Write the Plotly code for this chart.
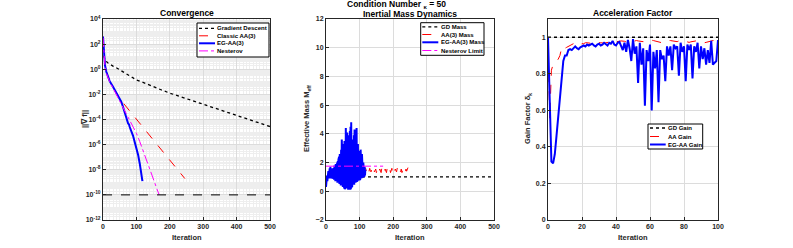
import plotly.graph_objects as go

# ---- Convergence (log10 of ||grad f||) ----
gd_iter = [0, 1, 2, 3, 5, 8, 10, 15, 20, 30, 40, 50, 60, 75, 100, 125, 150, 175, 200, 250, 300, 350, 400, 450, 500]
gd_log = [2.5, 1.6, 1.25, 1.05, 0.85, 0.7, 0.62, 0.5, 0.4, 0.25, 0.12, -0.04, -0.2, -0.45, -0.85, -1.1, -1.4, -1.65, -1.9, -2.35, -2.8, -3.25, -3.7, -4.13, -4.56]

aa_iter = [0, 2, 4, 6, 10, 15, 20, 30, 40, 50, 60, 80, 100, 125, 150, 175, 200, 225, 245]
aa_log = [2.6, 1.5, 0.8, 0.3, -0.2, -0.6, -0.95, -1.4, -1.85, -2.35, -2.67, -3.32, -3.97, -4.8, -5.6, -6.42, -7.25, -8.05, -8.7]

eg_iter = [0, 2, 4, 6, 10, 15, 20, 30, 40, 50, 55, 60, 65, 70, 75, 78, 80, 90, 100, 105, 110, 115, 118]
eg_log = [2.6, 1.5, 0.8, 0.3, -0.2, -0.6, -0.95, -1.4, -1.85, -2.3, -2.6, -3.0, -3.5, -4.0, -4.3, -4.4, -4.6, -5.3, -6.2, -6.8, -7.5, -8.3, -8.9]

nes_iter = [0, 2, 4, 6, 10, 20, 30, 40, 50, 60, 70, 80, 90, 100, 110, 120, 130, 140, 150, 160, 168]
nes_log = [2.5, 1.3, 0.6, 0.2, -0.3, -1.0, -1.5, -2.0, -2.5, -3.0, -3.5, -4.0, -4.55, -5.1, -5.75, -6.5, -7.2, -7.95, -8.7, -9.4, -10.0]

tol_iter = [0, 500]
tol_val = [1e-10, 1e-10]

y1_tick_exps = [4, 2, 0, -2, -4, -6, -8, -10, -12]

# ---- Inertial mass ----
gdm_iter = [0, 500]
gdm_val = [1.0, 1.0]

aam_iter = [0, 3, 6, 10, 15, 20, 30, 40, 50, 60, 70, 80, 90, 100, 110,
            118, 120, 122, 124, 126, 128, 130, 132, 134, 136, 138, 140, 142, 144, 146, 148, 150, 152, 154,
            156, 158, 160, 162, 164, 166, 168, 170, 172, 174, 176, 178, 180, 182, 184, 186, 188, 190, 192,
            194, 196, 198, 200, 202, 204, 206, 208, 210, 212, 214, 216, 218, 220, 222, 224, 226, 228, 230,
            232, 234, 236, 238, 240, 242, 244]
aam_val = [0.9, 0.95, 1.0, 1.05, 1.1, 1.1, 1.2, 1.3, 1.35, 1.4, 1.45, 1.4, 1.45, 1.5, 1.45,
           1.6, 1.4, 1.55, 1.35, 1.5, 1.4, 1.6, 1.45, 1.35, 1.55, 1.4, 1.5, 1.6, 1.35, 1.45, 1.55, 1.3, 1.5, 1.6,
           1.4, 1.35, 1.55, 1.45, 1.3, 1.6, 1.45, 1.4, 1.5, 1.35, 1.55, 1.45, 1.3, 1.6, 1.4, 1.35, 1.5, 1.55, 1.3,
           1.45, 1.6, 1.35, 1.4, 1.5, 1.3, 1.55, 1.45, 1.35, 1.6, 1.4, 1.3, 1.5, 1.45, 1.35, 1.55, 1.3, 1.45, 1.5,
           1.35, 1.45, 1.3, 1.55, 1.4, 1.5, 1.65]

egm_val = [0.3, 0.9, 0.5, 1.1, 0.7, 1.2, 0.8, 1.4, 0.9, 1.5, 0.9, 1.6, 0.9, 1.7, 1.0, 1.5, 1.1, 1.6, 0.9, 1.4,
           0.95, 1.5, 0.9, 1.6, 0.8, 1.8, 0.85, 1.7, 0.7, 1.9, 0.8, 1.8, 0.7, 2.0, 0.6, 2.1, 0.7, 2.2, 0.6, 2.4,
           0.5, 2.6, 0.55, 2.5, 0.4, 2.9, 0.45, 3.6, 0.4, 3.0, 0.3, 3.3, 0.35, 2.9, 0.2, 3.5, 0.15, 3.4, 0.3, 4.4,
           0.25, 3.8, 0.3, 4.1, 0.2, 3.6, 0.1, 3.9, 0.15, 3.3, 0.2, 4.2, 0.1, 4.5, 0.15, 4.8, 0.3, 4.1, 0.35, 3.6,
           0.5, 3.4, 0.5, 3.9, 0.45, 4.3, 0.6, 3.7, 0.65, 3.5, 0.7, 4.4, 0.7, 3.9, 0.75, 3.3, 0.8, 3.0, 0.85, 2.8,
           0.8, 2.6, 0.85, 2.9, 0.9, 2.4, 0.9, 2.6, 0.95, 2.2, 0.95, 2.0, 1.0, 1.8, 1.0, 1.7, 1.1, 1.5]
egm_iter = list(range(len(egm_val)))

nesm_iter = [0, 170]
nesm_val = [1.75, 1.75]

# ---- Acceleration factor ----
gain_iter = list(range(101))
gd_gain = [1.0] * 101
aa_gain = [1.0, 0.55, 0.82, 0.85, 0.86, 0.87, 0.88, 0.9, 0.94, 0.95, 0.94, 0.945, 0.95, 0.955, 0.96, 0.965, 0.96, 0.955, 0.955, 0.96,
           0.965, 0.965, 0.97, 0.97, 0.968, 0.966, 0.966, 0.968, 0.97, 0.972, 0.972, 0.97, 0.968, 0.968, 0.97, 0.972, 0.975, 0.976, 0.976, 0.975,
           0.975, 0.976, 0.978, 0.98, 0.98, 0.978, 0.975, 0.972, 0.972, 0.975, 0.978, 0.98, 0.982, 0.98, 0.978, 0.976, 0.976, 0.978, 0.98, 0.982,
           0.984, 0.984, 0.982, 0.98, 0.976, 0.972, 0.97, 0.97, 0.972, 0.976, 0.98, 0.982, 0.982, 0.98, 0.976, 0.974, 0.976, 0.98, 0.982, 0.982,
           0.98, 0.976, 0.972, 0.972, 0.975, 0.978, 0.98, 0.98, 0.978, 0.975, 0.972, 0.97, 0.97, 0.972, 0.975, 0.978, 0.98, 0.982, 0.982, 0.982,
           0.982]
eg_gain = [1.0, 0.62, 0.32, 0.31, 0.36, 0.46, 0.57, 0.68, 0.8, 0.87, 0.9, 0.9, 0.93, 0.935, 0.93, 0.94, 0.95, 0.94, 0.935, 0.945,
           0.95, 0.955, 0.95, 0.96, 0.955, 0.96, 0.965, 0.955, 0.95, 0.96, 0.965, 0.955, 0.96, 0.97, 0.96, 0.955, 0.97, 0.965, 0.98, 0.96,
           0.955, 0.97, 0.975, 0.95, 0.93, 0.97, 0.92, 0.985, 0.94, 0.87, 0.99, 0.91, 0.95, 0.75, 0.97, 0.85, 0.94, 0.625, 0.93, 0.87,
           0.96, 0.6, 0.92, 0.83, 0.93, 0.645, 0.93, 0.88, 0.9, 0.76, 0.95, 0.9, 0.95, 0.82, 0.96, 0.94, 0.95, 0.79, 0.97, 0.92,
           0.95, 0.76, 0.96, 0.93, 0.96, 0.775, 0.95, 0.92, 0.97, 0.83, 0.95, 0.88, 0.94, 0.85, 0.93, 0.86, 0.98, 0.85, 0.86, 0.87,
           0.985]

# log-axis minor grid positions (2..9 x 10^k)
minor_log_vals = [m * 10.0 ** k for k in range(-12, 4) for m in range(2, 10)]
minor_log_vals += [10.0 ** k for k in range(-11, 4, 2)]

BLACK = "#000000"
RED = "#ff0000"
BLUE = "#0000ff"
MAG = "#ff00ff"
FONT = "Liberation Sans"

STY_GD = dict(color=BLACK, width=1.3, dash="dot")
STY_AA = dict(color=RED, width=1, dash="dash")
STY_EG = dict(color=BLUE, width=2)
STY_NES = dict(color=MAG, width=1, dash="dashdot")

fig = go.Figure()

# panel 1
fig.add_trace(go.Scatter(x=gd_iter, y=[10 ** v for v in gd_log], mode="lines", line=STY_GD, xaxis="x", yaxis="y"))
fig.add_trace(go.Scatter(x=aa_iter, y=[10 ** v for v in aa_log], mode="lines", line=STY_AA, xaxis="x", yaxis="y"))
fig.add_trace(go.Scatter(x=eg_iter, y=[10 ** v for v in eg_log], mode="lines", line=STY_EG, xaxis="x", yaxis="y"))
fig.add_trace(go.Scatter(x=nes_iter, y=[10 ** v for v in nes_log], mode="lines", line=STY_NES, xaxis="x", yaxis="y"))
fig.add_trace(go.Scatter(x=tol_iter, y=tol_val, mode="lines",
                         line=dict(color=BLACK, width=1, dash="dash"), xaxis="x", yaxis="y"))

# panel 2
fig.add_trace(go.Scatter(x=gdm_iter, y=gdm_val, mode="lines", line=STY_GD, xaxis="x2", yaxis="y2"))
fig.add_trace(go.Scatter(x=aam_iter, y=aam_val, mode="lines", line=STY_AA, xaxis="x2", yaxis="y2"))
fig.add_trace(go.Scatter(x=egm_iter, y=egm_val, mode="lines", line=STY_EG, xaxis="x2", yaxis="y2"))
fig.add_trace(go.Scatter(x=nesm_iter, y=nesm_val, mode="lines", line=STY_NES, xaxis="x2", yaxis="y2"))

# panel 3
fig.add_trace(go.Scatter(x=gain_iter, y=gd_gain, mode="lines", line=STY_GD, xaxis="x3", yaxis="y3"))
fig.add_trace(go.Scatter(x=gain_iter, y=aa_gain, mode="lines", line=STY_AA, xaxis="x3", yaxis="y3"))
fig.add_trace(go.Scatter(x=gain_iter, y=eg_gain, mode="lines", line=STY_EG, xaxis="x3", yaxis="y3"))

W, H = 793, 248
ydom = [1 - 220 / H, 1 - 19 / H]
tickfont = dict(family=FONT, size=7, color="#262626", weight="bold")
GRID = "#dcdcdc"
MINOR = "#eeeeee"

common = dict(showline=True, linecolor="#262626", linewidth=1, mirror=True, ticks="inside", ticklen=3,
              tickcolor="#262626", tickfont=tickfont, showgrid=True, gridcolor=GRID, gridwidth=1,
              zeroline=False, automargin=False)

fig.update_layout(
    width=W, height=H, margin=dict(l=0, r=0, t=0, b=0, pad=0, autoexpand=False),
    plot_bgcolor="white", paper_bgcolor="white", showlegend=False,
    font=dict(family=FONT, color="#262626"),
    xaxis=dict(domain=[103 / W, 270 / W], range=[0, 500], dtick=100, anchor="y",
               minor=dict(dtick=10, showgrid=True, gridcolor=MINOR, ticks=""), **common),
    yaxis=dict(domain=ydom, type="log", range=[-12, 4], anchor="x",
               tickvals=[10.0 ** e for e in y1_tick_exps],
               ticktext=["10<sup>%d</sup>" % e for e in y1_tick_exps],
               minor=dict(tickvals=minor_log_vals, showgrid=True, gridcolor=MINOR, ticks=""), **common),
    xaxis2=dict(domain=[326 / W, 494 / W], range=[0, 500], dtick=100, anchor="y2", **common),
    yaxis2=dict(domain=ydom, range=[-2, 12], dtick=2, anchor="x2", **common),
    xaxis3=dict(domain=[548 / W, 718 / W], range=[0, 100], dtick=20, anchor="y3", **common),
    yaxis3=dict(domain=ydom, range=[0, 1.1], tickvals=[0, 0.2, 0.4, 0.6, 0.8, 1], anchor="x3", **common),
)

titlefont = dict(family=FONT, size=8.5, color="#000000", weight="bold")
labfont = dict(family=FONT, size=7.5, color="#262626", weight="bold")
legfont = dict(family=FONT, size=6, color="#000000", weight="bold")


def note(text, x, y, font, angle=0, xanchor="center"):
    fig.add_annotation(text=text, x=x / W, y=1 - y / H, xref="paper", yref="paper",
                       showarrow=False, font=font, textangle=angle, xanchor=xanchor, yanchor="middle",
                       borderpad=0)


note("Convergence", 186.5, 13, titlefont)
note("Condition Number <sub>κ</sub> = 50", 396, 4.5, titlefont)
note("Inertial Mass Dynamics", 410, 14, titlefont)
note("Acceleration Factor", 633, 13, titlefont)
note("Iteration", 186.5, 237, labfont)
note("Iteration", 410, 237, labfont)
note("Iteration", 633, 237, labfont)
note("||∇ f||", 84, 119, labfont, -90)
note("Effective Mass M<sub>eff</sub>", 307, 119, labfont, -90)
note("Gain Factor δ<sub>k</sub>", 528, 119, labfont, -90)


# hand-drawn legend boxes (compact, MATLAB style)
def legend_box(x0, y0, x1, y1, rows, sx0, sx1, tx):
    fig.add_shape(type="rect", xref="paper", yref="paper", x0=x0 / W, x1=x1 / W, y0=1 - y0 / H, y1=1 - y1 / H,
                  line=dict(color=BLACK, width=1), fillcolor="white", layer="above")
    for ry, label, sty in rows:
        fig.add_shape(type="line", xref="paper", yref="paper", x0=sx0 / W, x1=sx1 / W, y0=1 - ry / H, y1=1 - ry / H,
                      line=sty, layer="above")
        note(label, tx, ry, legfont, xanchor="left")


legend_box(197, 23, 269, 57,
           [(28.3, "Gradient Descent", STY_GD), (35.8, "Classic AA(3)", STY_AA),
            (43.3, "EG-AA(3)", STY_EG), (50.9, "Nesterov", STY_NES)], 199, 215, 216)
legend_box(420.7, 22.7, 484, 55.3,
           [(26.9, "GD Mass", STY_GD), (34.5, "AA(3) Mass", STY_AA),
            (42.3, "EG-AA(3) Mass", STY_EG), (50.5, "Nesterov Limit", STY_NES)], 422.3, 438.3, 440)
legend_box(648, 124, 702.7, 149,
           [(128, "GD Gain", STY_GD), (136.5, "AA Gain", STY_AA), (144.5, "EG-AA Gain", STY_EG)],
           650, 665.7, 667.3)

# the browser adds an 8px body margin by default; remove it so the figure sits at the page origin
fig.write_html("out.html", config={"displayModeBar": False},
               post_script="document.body.style.margin='0';")
